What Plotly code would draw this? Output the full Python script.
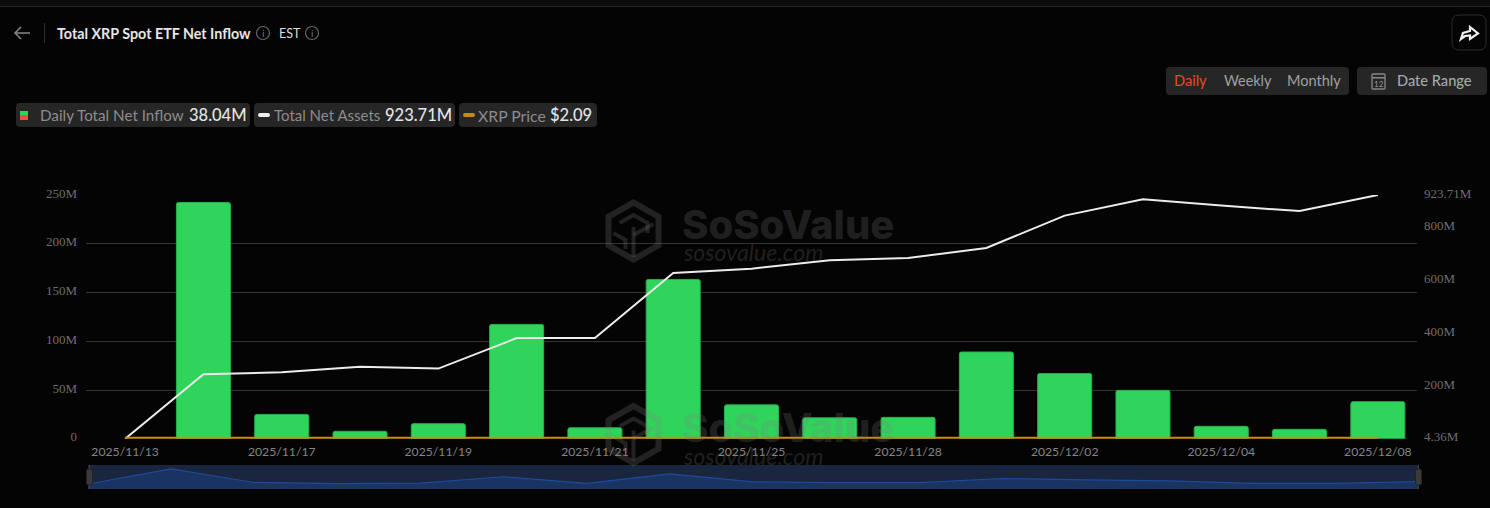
import plotly.graph_objects as go

W, H = 1490, 508

dates = ["2025/11/13", "2025/11/14", "2025/11/17", "2025/11/18", "2025/11/19", "2025/11/20",
         "2025/11/21", "2025/11/24", "2025/11/25", "2025/11/26", "2025/11/28", "2025/12/01",
         "2025/12/02", "2025/12/03", "2025/12/04", "2025/12/05", "2025/12/08"]
date_ticks = dates[0::2]
daily_inflow = [None, 242.3, 25, 7.7, 15.5, 117.3, 11.3, 163.4, 34.8, 21.5, 22, 89, 67, 49.7, 12.8, 9.7, 38.04]
net_assets = [4.36, 248, 255, 276, 269, 384, 384, 630, 646, 678, 686, 724, 846, 908, 884, 863, 923.71]
xrp_price = [2.38, 2.25, 2.25, 2.16, 2.13, 1.96, 1.95, 2.03, 2.19, 2.21, 2.20, 2.04, 2.17, 2.07, 2.07, 2.03, 2.09]
overview = [80, 322, 105, 88, 95, 197, 91, 244, 115, 101, 102, 169, 147, 130, 92, 90, 118]
left_ticks = [0, 50, 100, 150, 200, 250]
left_labels = ["0", "50M", "100M", "150M", "200M", "250M"]
right_ticks = [4.36, 200, 400, 600, 800, 923.71]
right_labels = ["4.36M", "200M", "400M", "600M", "800M", "923.71M"]

BG = "#040404"
CHIP = "#262626"
WM = "rgba(128,128,128,0.24)"
SERIF = "Liberation Serif"
SANS = "Lato"


def px(x):
    return x / W


def py(y):
    return 1 - y / H


def round_rect(x0, y0, x1, y1, r=4):
    return (f"M{px(x0+r)},{py(y0)} L{px(x1-r)},{py(y0)} Q{px(x1)},{py(y0)} {px(x1)},{py(y0+r)} "
            f"L{px(x1)},{py(y1-r)} Q{px(x1)},{py(y1)} {px(x1-r)},{py(y1)} L{px(x0+r)},{py(y1)} "
            f"Q{px(x0)},{py(y1)} {px(x0)},{py(y1-r)} L{px(x0)},{py(y0+r)} Q{px(x0)},{py(y0)} {px(x0+r)},{py(y0)} Z")


def poly(points, close=True):
    s = "M" + " L".join(f"{px(a)},{py(b)}" for a, b in points)
    return s + (" Z" if close else "")


shapes, notes = [], []


def path(d, fill="rgba(0,0,0,0)", line=None, width=0, layer="below"):
    shapes.append(dict(type="path", xref="paper", yref="paper", path=d, fillcolor=fill,
                       line=dict(color=line or "rgba(0,0,0,0)", width=width), layer=layer))


def rect(x0, y0, x1, y1, fill, layer="below"):
    shapes.append(dict(type="rect", xref="paper", yref="paper", x0=px(x0), x1=px(x1), y0=py(y0), y1=py(y1),
                       fillcolor=fill, line=dict(width=0), layer=layer))


def text(x, y, s, size=13, color="#999", family=SANS, anchor="left", weight=None):
    f = dict(size=size, color=color, family=family)
    if weight:
        f["weight"] = weight
    notes.append(dict(x=px(x), y=py(y), xref="paper", yref="paper", text=s, showarrow=False,
                      xanchor=anchor, yanchor="middle", font=f, borderpad=0, borderwidth=0))


def info_icon(x, y):
    shapes.append(dict(type="circle", xref="paper", yref="paper", x0=px(x-6.5), x1=px(x+6.5), y0=py(y+6.5), y1=py(y-6.5),
                       line=dict(color="#666", width=1.2), fillcolor="rgba(0,0,0,0)"))
    text(x, y, "i", size=10, color="#777", anchor="center")


# top frame
rect(0, 0, W, 6, "#0c0c0c")
rect(0, 6, W, 7, "#262626")

# header
path(poly([(30, 33), (15, 33)], False), line="#888", width=1.5)
path(poly([(21, 27), (15, 33), (21, 39)], False), line="#888", width=1.5)
rect(44, 23, 45, 43, "#2c2c2c")
text(57, 33, "Total XRP Spot ETF Net Inflow", size=14.3, color="#e6e6e6", weight=700)
info_icon(263, 33)
text(279, 33, "EST", size=12.5, color="#ddd")
info_icon(312, 33)
path(round_rect(1452, 15, 1486, 50, 7), line="#2a2a2a", width=1)
path(poly([(1461, 39), (1463, 33), (1470, 31), (1470, 27), (1478, 33.5), (1470, 39), (1470, 35.5), (1465, 36)]),
     line="#f2f2f2", width=2.2)

# range controls
path(round_rect(1166, 67, 1349, 95, 4), fill=CHIP)
path(round_rect(1357, 67, 1487, 95, 4), fill=CHIP)
text(1174, 81, "Daily", size=14.6, color="#f0471f")
text(1224, 81, "Weekly", size=14.4, color="#a0a0a0")
text(1287, 81, "Monthly", size=14.5, color="#a0a0a0")
text(1397, 81, "Date Range", size=14.6, color="#a8a8a8", weight=500)
path(round_rect(1372, 74, 1385, 89, 1), line="#888", width=1.3)
rect(1372, 77, 1385, 78.5, "#888")
text(1378.5, 83.5, "12", size=8, color="#999", anchor="center")

# legend chips
path(round_rect(16, 103, 250, 127, 4), fill=CHIP)
path(round_rect(254, 103, 455, 127, 4), fill=CHIP)
path(round_rect(459, 103, 597, 127, 4), fill=CHIP)
rect(20, 111, 28, 115, "#2fd45b")
rect(20, 115, 28, 120, "#f0503c")
path(round_rect(258, 113, 270, 117, 2), fill="#eeeeee")
path(round_rect(463, 113, 475, 117, 2), fill="#c98a12")
text(40, 115, "Daily Total Net Inflow", size=15.2, color="#8c8c8c")
text(189, 115, "38.04M", size=16.5, color="#e4e4e4", weight=500)
text(274, 115, "Total Net Assets", size=15, color="#8c8c8c")
text(385, 115, "923.71M", size=16.5, color="#e4e4e4", weight=500)
text(478, 115, "XRP Price", size=15.8, color="#8c8c8c")
text(550, 115, "$2.09", size=16.5, color="#e4e4e4", weight=500)

# overview strip
rect(88, 465, 1418, 489, "#1a2540")
for hx in (89.5, 1418.5):
    rect(hx - 0.5, 465, hx + 0.5, 489, "#444", layer="above")
    path(round_rect(hx - 3, 469, hx + 3, 485, 2), fill="#3a3a3a", line="#222", width=1, layer="above")

# watermarks
for dy in (0, 203.5):
    cx, cy, = 633.5, 231 + dy
    outer = [(cx, cy - 32), (cx + 28, cy - 16), (cx + 28, cy + 16), (cx, cy + 32), (cx - 28, cy + 16), (cx - 28, cy - 16)]
    inner = [(cx, cy - 25), (cx - 22, cy - 12.5), (cx - 22, cy + 12.5), (cx, cy + 25), (cx + 22, cy + 12.5), (cx + 22, cy - 12.5)]
    path(poly(outer) + " " + poly(inner), fill=WM, layer="above")
    path(poly([(cx - 14, cy - 8), (cx, cy - 16), (cx + 14, cy - 8), (cx + 14, cy + 2)], False), line=WM, width=4, layer="above")
    path(poly([(cx - 20, cy + 2), (cx - 8, cy + 9), (cx - 8, cy + 18)], False), line=WM, width=4, layer="above")
    path(poly([(cx, cy - 4), (cx, cy + 26)], False), line=WM, width=4, layer="above")
    path(poly([(cx, cy + 4), (cx + 20, cy - 7)], False), line=WM, width=4, layer="above")
    text(682, cy - 7, "SoSoValue", size=40, color=WM, family="Inter", weight=800)
    text(683, cy + 21, "<i>sosovalue.com</i>", size=23.2, color=WM, family=SANS)

fig = go.Figure()
fig.add_trace(go.Bar(x=dates, y=daily_inflow, width=0.69, yaxis="y", xaxis="x",
                     marker=dict(color="#2fd45b", cornerradius=2, line=dict(color="#27b04c", width=1))))
fig.add_trace(go.Scatter(x=dates, y=net_assets, yaxis="y2", xaxis="x", mode="lines",
                         line=dict(color="#ececec", width=2)))
fig.add_trace(go.Scatter(x=dates, y=xrp_price, yaxis="y3", xaxis="x", mode="lines", cliponaxis=False,
                         line=dict(color="#d08c0c", width=2.4)))
fig.add_trace(go.Scatter(x=dates, y=overview, yaxis="y4", xaxis="x2", mode="lines", fill="tozeroy",
                         fillcolor="#193460", line=dict(color="#1e4a9a", width=1.2)))

tick_font = dict(family=SERIF, size=13, color="#6e6e6e")
fig.update_layout(
    width=W, height=H, margin=dict(l=0, r=0, t=0, b=0),
    paper_bgcolor=BG, plot_bgcolor="rgba(0,0,0,0)",
    showlegend=False, hovermode=False, bargap=0.31,
    shapes=shapes, annotations=notes,
    xaxis=dict(type="category", categoryorder="array", categoryarray=dates, domain=[px(86), px(1417)],
               anchor="y", tickmode="array", tickvals=date_ticks, ticktext=date_ticks, automargin=False,
               ticks="", showgrid=False, showline=False, zeroline=False,
               tickfont=dict(family=SANS, size=12.2, color="#858585"), ticklabelstandoff=4,
               range=[-0.5, 16.5]),
    yaxis=dict(domain=[py(438.8), py(195)], range=[0, 250], tickmode="array", tickvals=left_ticks, automargin=False,
               ticktext=left_labels, tickfont=tick_font, showline=False, zeroline=False,
               gridcolor="#333333", gridwidth=1, ticks="", ticklabelstandoff=8, ticklabelshift=-2),
    yaxis2=dict(overlaying="y", side="right", anchor="x", range=[4.36, 923.71], tickmode="array", automargin=False,
                tickvals=right_ticks, ticktext=right_labels, tickfont=tick_font, showgrid=False,
                showline=False, zeroline=False, ticks="", ticklabelstandoff=6, ticklabelshift=-2),
    yaxis3=dict(overlaying="y", anchor="x", range=[0, 700], visible=False, automargin=False),
    xaxis2=dict(type="category", categoryorder="array", categoryarray=dates, domain=[px(88), px(1418)],
                anchor="y4", range=[0, 16], visible=False, automargin=False),
    yaxis4=dict(domain=[py(489), py(465)], range=[0, 386], anchor="x2", visible=False, automargin=False),
)

fig.write_html("out.html", config=dict(displayModeBar=False, staticPlot=True),
               post_script="document.body.style.margin='0';document.body.style.background='#040404';document.body.style.overflow='hidden';")
